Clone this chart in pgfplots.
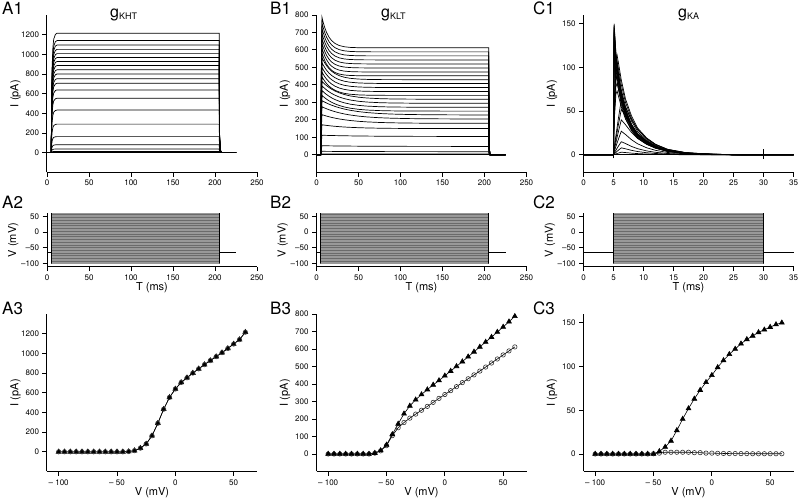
\documentclass[border=0pt]{standalone}
\usepackage{pgfplots}
\pgfplotsset{compat=1.18}
\usepackage{pgfplotstable}
\usepackage{fontspec}
\setmainfont{TeX Gyre Heros}

% normalized time courses
\pgfplotstableread{
t r
0 0
5 0
5.5 0.45
6 0.7
7 0.88
8 0.95
10 0.99
12 1
205 1
205.5 0.15
206.5 0.02
208 0
225 0
}\shapeA

\pgfplotstableread{
t r d8 d12 d20 d30 d45
0 0 1 1 1 1 1
5 0 1 1 1 1 1
5.5 0.5 1 1 1 1 1
6.5 1 1 1 1 1 1
8 1 0.829 0.882 0.928 0.951 0.967
10 1 0.646 0.747 0.839 0.890 0.925
12 1 0.503 0.632 0.760 0.833 0.885
15 1 0.346 0.492 0.654 0.753 0.828
18 1 0.238 0.384 0.563 0.682 0.774
22 1 0.144 0.275 0.461 0.597 0.709
27 1 0.077 0.181 0.359 0.505 0.634
33 1 0.036 0.110 0.266 0.413 0.555
40 1 0.015 0.061 0.187 0.327 0.475
50 1 0.004 0.027 0.114 0.235 0.380
60 1 0.001 0.012 0.069 0.168 0.305
75 1 0 0.003 0.033 0.102 0.218
90 1 0 0.001 0.015 0.062 0.156
110 1 0 0 0.006 0.032 0.100
135 1 0 0 0.002 0.014 0.058
165 1 0 0 0 0.005 0.030
205 1 0 0 0 0.001 0.012
205.5 0.1 0 0 0 0 0
206.5 0 0 0 0 0 0
225 0 0 0 0 0 0
}\shapeB

\pgfplotstableread{
t f m s
0 0 0 0
5 0 0 0
5.1 1 0.5 0.12
5.4 0.78 0.95 0.35
5.6 0.70 1 0.5
5.8 0.63 0.93 0.65
6.3 0.48 0.75 1
7 0.35 0.56 0.86
8 0.23 0.39 0.64
9 0.16 0.27 0.47
10.5 0.105 0.17 0.3
12 0.065 0.105 0.19
14 0.033 0.055 0.1
17 0.013 0.022 0.04
21 0.004 0.007 0.013
25 0.001 0.002 0.004
30 0 0 0
35 0 0 0
}\shapeC

% I-V data: v, peak (triangles), steady state (circles)
\pgfplotstableread{
v pk ss
-100 0 0
-95 0 0
-90 0 0
-85 0 0
-80 0 0
-75 0 0
-70 0 0
-65 0 0
-60 0 0
-55 0 0
-50 0 0
-45 0 0
-40 3 3
-35 12 12
-30 37 37
-25 80 80
-20 163 163
-15 290 290
-10 433 433
-5 553 553
0 638 638
5 705 705
10 752 752
15 800 800
20 843 843
25 886 886
30 927 927
35 967 967
40 1007 1007
45 1050 1050
50 1095 1095
55 1140 1140
60 1215 1215
}\ivA

\pgfplotstableread{
v pk ss
-100 0 0
-95 0 0
-90 0 0
-85 0 0
-80 0 0
-75 0 0
-70 0 0
-65 0 0
-60 5 5
-55 20 18
-50 52 48
-45 112 105
-40 172 150
-35 230 180
-30 275 205
-25 310 228
-20 340 250
-15 368 272
-10 395 295
-5 420 318
0 447 340
5 474 362
10 501 385
15 528 408
20 556 430
25 584 452
30 612 474
35 640 497
40 668 520
45 697 543
50 726 566
55 756 589
60 787 612
}\ivB

\pgfplotstableread{
v pk ss
-100 0 0
-95 0 0
-90 0 0
-85 0 0
-80 0 0
-75 0 0
-70 0 0
-65 0 0
-60 0 0
-55 0 0
-50 0 0.3
-45 3 1
-40 8 2
-35 15 2
-30 27 2
-25 40 2
-20 52 2
-15 63 1.5
-10 73 1.5
-5 82 1
0 90 1
5 99 0.8
10 107 0.6
15 114 0.5
20 120 0.5
25 126 0.4
30 131 0.4
35 135 0.3
40 139 0.3
45 142 0.3
50 145 0.3
55 148 0.3
60 150 0.3
}\ivC

\def\btrace#1/#2/#3\relax{\addplot[tr] table[x=t, y expr={\thisrow{r}*(#2+(#1-#2)*\thisrow{#3})}] {\shapeB};}
\def\ctrace#1/#2\relax{\addplot[trc] table[x=t, y expr={\thisrow{#2}*#1}] {\shapeC};}

\pgfplotsset{
  base/.style={scale only axis, anchor=south west, clip=false,
    axis x line*=bottom, axis y line*=left,
    axis line style={line width=1pt, black},
    tick align=outside, major tick length=4.5pt,
    tick style={line width=0.9pt, black},
    /pgf/number format/assume math mode=true,
    /pgf/number format/1000 sep={},
    ticklabel style={font=\fontsize{8}{9}\selectfont},
    label style={font=\fontsize{11}{12}\selectfont},
    ylabel style={at={(axis description cs:-0.15,0.5)}, anchor=center},
    xlabel style={at={(axis description cs:0.5,0)}, anchor=center, yshift=-21pt},
    width=210pt,
  },
  row1/.style={base, height=157.3pt},
  row2/.style={base, height=53.5pt, ymin=-110, ymax=60,
    ytick={-100,-50,0,50}, yticklabels={--100,--50,0,50},
    xlabel={T (ms)}, ylabel={V (mV)},
    ylabel style={at={(axis description cs:-0.16,0.5)}}},
  row3/.style={base, height=157.5pt, xmin=-110, xmax=70,
    xtick={-100,-50,0,50}, xticklabels={-- 100,-- 50,0,50},
    xlabel={V (mV)}, ylabel={I (pA)}},
  tr/.style={black, line width=0.7pt, no marks},
  trc/.style={black, line width=0.7pt, no marks},
  vt/.style={black!40, line width=0.35pt, no marks},
  vbox/.style={fill=black!58, draw=none, no marks},
  vedge/.style={black, line width=0.8pt, no marks},
  ivl/.style={black, line width=0.6pt},
  circ/.style={ivl, mark=o, mark size=2.2pt, mark options={draw=black!80, line width=0.6pt}},
  tri/.style={ivl, mark=triangle*, mark size=2.8pt, mark options={fill=black, draw=black}},
}

\begin{document}
\begin{tikzpicture}
\useasboundingbox (0pt,0pt) rectangle (800pt,502pt);

% ---------------- row 1 ----------------
\begin{axis}[row1, at={(47pt,329.7pt)}, xmin=0, xmax=250, ymin=-200, ymax=1400,
  xtick={0,50,...,250}, ytick={0,200,...,1200}, ylabel={I (pA)}]
\pgfplotsinvokeforeach{0,0,0,0,0,0,0,0,0,0,0,0,3,12,37,80,163,290,433,553,638,705,752,800,843,886,927,967,1007,1050,1095,1140,1215}{
  \addplot[tr] table[x=t, y expr={\thisrow{r}*#1}] {\shapeA};
}
\end{axis}

\begin{axis}[row1, at={(316.5pt,329.7pt)}, xmin=0, xmax=250, ymin=-100, ymax=800,
  xtick={0,50,...,250}, ytick={0,100,...,800}, ylabel={I (pA)}]
\pgfplotsinvokeforeach{0/0/d45,0/0/d45,0/0/d45,0/0/d45,0/0/d45,0/0/d45,0/0/d45,0/0/d45,
  5/5/d45,20/18/d45,52/48/d45,112/105/d45,172/150/d30,230/180/d30,275/205/d30,310/228/d30,
  340/250/d20,368/272/d20,395/295/d20,420/318/d20,447/340/d12,474/362/d12,501/385/d12,
  528/408/d12,556/430/d12,584/452/d8,612/474/d8,640/497/d8,668/520/d8,697/543/d8,
  726/566/d8,756/589/d8,787/612/d8}{\btrace#1\relax}
\end{axis}

\begin{axis}[row1, at={(583.5pt,329.7pt)}, xmin=0, xmax=35, ymin=-20, ymax=160,
  xtick={0,5,...,35}, ytick={0,50,100,150}, ylabel={I (pA)}]
\pgfplotsinvokeforeach{0/s,0/s,0/s,0/s,0/s,0/s,0/s,0/s,0/s,0/s,0/s,
  3/s,8/s,15/s,27/s,40/s,52/s,63/s,73/m,82/m,90/m,99/m,107/m,114/m,
  120/f,126/f,131/f,135/f,139/f,142/f,145/f,148/f,150/f}{\ctrace#1\relax}
\addplot[tr] coordinates {(5,-4) (5,0)};
\addplot[tr] coordinates {(30,-5) (30,7)};
\end{axis}

% ---------------- row 2 ----------------
\begin{axis}[row2, at={(47pt,235.3pt)}, xmin=0, xmax=250, xtick={0,50,...,250}]
\addplot[vbox] coordinates {(5,-100) (205,-100) (205,60) (5,60)} -- cycle;
\pgfplotsinvokeforeach{-100,-95,-90,-85,-80,-75,-70,-65,-60,-55,-50,-45,-40,-35,-30,-25,-20,-15,-10,-5,0,5,10,15,20,25,30,35,40,45,50,55,60}{
  \addplot[vt] coordinates {(5,#1) (205,#1)};
}
\addplot[vedge] coordinates {(0,-65) (5,-65) (5,-100) (5,60)};
\addplot[vedge] coordinates {(205,60) (205,-100) (205,-65) (225,-65)};
\end{axis}

\begin{axis}[row2, at={(316.5pt,235.3pt)}, xmin=0, xmax=250, xtick={0,50,...,250}]
\addplot[vbox] coordinates {(5,-100) (205,-100) (205,60) (5,60)} -- cycle;
\pgfplotsinvokeforeach{-100,-95,-90,-85,-80,-75,-70,-65,-60,-55,-50,-45,-40,-35,-30,-25,-20,-15,-10,-5,0,5,10,15,20,25,30,35,40,45,50,55,60}{
  \addplot[vt] coordinates {(5,#1) (205,#1)};
}
\addplot[vedge] coordinates {(0,-65) (5,-65) (5,-100) (5,60)};
\addplot[vedge] coordinates {(205,60) (205,-100) (205,-65) (225,-65)};
\end{axis}

\begin{axis}[row2, at={(583.5pt,235.3pt)}, xmin=0, xmax=35, xtick={0,5,...,35}]
\addplot[vbox] coordinates {(5,-100) (30,-100) (30,60) (5,60)} -- cycle;
\pgfplotsinvokeforeach{-100,-95,-90,-85,-80,-75,-70,-65,-60,-55,-50,-45,-40,-35,-30,-25,-20,-15,-10,-5,0,5,10,15,20,25,30,35,40,45,50,55,60}{
  \addplot[vt] coordinates {(5,#1) (30,#1)};
}
\addplot[vedge] coordinates {(0,-65) (5,-65) (5,-100) (5,60)};
\addplot[vedge] coordinates {(30,60) (30,-100) (30,-65) (35,-65)};
\end{axis}

% ---------------- row 3 ----------------
\begin{axis}[row3, at={(47pt,30.5pt)}, ymin=-200, ymax=1400, ytick={0,200,...,1200}]
\addplot[tri] table[x=v, y=pk] {\ivA};
\addplot[circ] table[x=v, y=ss] {\ivA};
\end{axis}

\begin{axis}[row3, at={(316.5pt,30.5pt)}, ymin=-100, ymax=800, ytick={0,100,...,800}]
\addplot[circ] table[x=v, y=ss] {\ivB};
\addplot[tri] table[x=v, y=pk] {\ivB};
\end{axis}

\begin{axis}[row3, at={(583.5pt,30.5pt)}, ymin=-20, ymax=160, ytick={0,50,100,150}]
\addplot[circ] table[x=v, y=ss] {\ivC};
\addplot[tri] table[x=v, y=pk] {\ivC};
\end{axis}

% ---------------- titles and panel labels ----------------
\node[anchor=base west, inner sep=0pt] at (110pt,484.5pt)
  {\fontsize{16}{18}\selectfont g\raisebox{-2.5pt}{\fontsize{9}{10}\selectfont KHT}};
\node[anchor=base west, inner sep=0pt] at (381pt,484.5pt)
  {\fontsize{16}{18}\selectfont g\raisebox{-2.5pt}{\fontsize{9}{10}\selectfont KLT}};
\node[anchor=base west, inner sep=0pt] at (678pt,484.5pt)
  {\fontsize{16}{18}\selectfont g\raisebox{-2.5pt}{\fontsize{9}{10}\selectfont KA}};

\foreach \lx/\c in {2/A, 270/B, 533/C}{
  \node[anchor=base west, inner sep=0pt, font=\fontsize{17}{19}\selectfont] at (\lx pt,487pt) {\c1};
  \node[anchor=base west, inner sep=0pt, font=\fontsize{17}{19}\selectfont] at (\lx pt,293.7pt) {\c2};
  \node[anchor=base west, inner sep=0pt, font=\fontsize{17}{19}\selectfont] at (\lx pt,187pt) {\c3};
}
\end{tikzpicture}
\end{document}
